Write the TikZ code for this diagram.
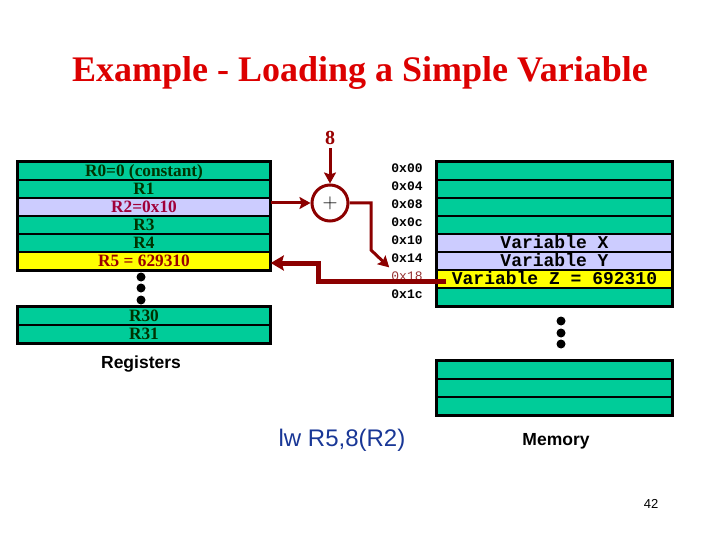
\documentclass[tikz,border=0pt]{standalone}
\usepackage{fontspec}
\setmainfont{Liberation Serif}
\newfontfamily\arialf{Liberation Sans}
\newfontfamily\courf{Liberation Mono}
\usetikzlibrary{arrows.meta,calc}
\definecolor{rgreen}{RGB}{0,204,153}
\definecolor{rlav}{RGB}{204,204,255}
\definecolor{ryel}{RGB}{255,255,0}
\definecolor{dkgreen}{RGB}{0,51,0}
\definecolor{wire}{RGB}{140,0,0}
\definecolor{titlered}{RGB}{220,0,0}
\definecolor{r2red}{RGB}{160,0,58}
\definecolor{r5red}{RGB}{153,0,0}
\definecolor{instblue}{RGB}{25,55,150}
\definecolor{faded}{RGB}{150,50,50}
\tikzset{
  regrow/.style={draw=black, line width=1.5pt, fill=rgreen, minimum width=252pt, minimum height=18pt, inner sep=0pt,
    text height=11pt, text depth=0pt,
    font=\bfseries\fontsize{17.3}{17.3}\selectfont, text=dkgreen},
  memrow/.style={draw=black, line width=1.5pt, fill=rgreen, minimum width=235pt, minimum height=18pt, inner sep=0pt,
    text height=10pt, text depth=0pt,
    font=\courf\bfseries\fontsize{18}{18}\selectfont, text=black},
  addr/.style={font=\courf\bfseries\fontsize{13}{13}\selectfont, inner sep=0pt},
  frame/.style={draw=black, line width=3pt},
  dot/.style={circle, fill=black, inner sep=0pt, minimum size=9pt},
  wirearrow/.style={draw=wire, line width=3pt, -{Stealth[length=11pt,width=12pt,inset=2pt]}},
  thickarrow/.style={draw=wire, line width=5pt, -{Stealth[length=13pt,width=15pt,inset=2pt]}},
}
\begin{document}
\begin{tikzpicture}[x=1pt,y=-1pt]
\useasboundingbox (0,0) rectangle (720,540);
% title
\node[font=\bfseries\fontsize{36}{36}\selectfont, text=titlered] (title) at (360,73) {Example - Loading a Simple Variable};
% registers
\node[regrow] (r0) at (144,171) {R0=0 (constant)};
\node[regrow] (r1) at (144,189) {R1};
\node[regrow, fill=rlav, text=r2red] (r2) at (144,207) {R2=0x10};
\node[regrow] (r3) at (144,225) {R3};
\node[regrow] (r4) at (144,243) {R4};
\node[regrow, fill=ryel, text=r5red] (r5) at (144,261) {R5 = 629310};
\draw[frame] (r0.north west) rectangle (r5.south east);
\node[dot] (rd1) at (141,277) {};
\node[dot] (rd2) at (141,288) {};
\node[dot] (rd3) at (141,300) {};
\node[regrow] (r30) at (144,316) {R30};
\node[regrow] (r31) at (144,334) {R31};
\draw[frame] (r30.north west) rectangle (r31.south east);
\node[font=\arialf\bfseries\fontsize{17.5}{17.5}\selectfont] (reglbl) at (141,364) {Registers};
% memory
\node[memrow] (m0) at (554.5,171) {};
\node[memrow] (m1) at (554.5,189) {};
\node[memrow] (m2) at (554.5,207) {};
\node[memrow] (m3) at (554.5,225) {};
\node[memrow, fill=rlav] (mx) at (554.5,243) {Variable X};
\node[memrow, fill=rlav] (my) at (554.5,261) {Variable Y};
\node[memrow, fill=ryel] (mz) at (554.5,279) {Variable Z = 692310};
\node[memrow] (m7) at (554.5,297) {};
\draw[frame] (m0.north west) rectangle (m7.south east);
\node[dot] (md1) at (561,321) {};
\node[dot] (md2) at (561,333) {};
\node[dot] (md3) at (561,344) {};
\node[memrow] (mb0) at (554.5,370) {};
\node[memrow] (mb1) at (554.5,388) {};
\node[memrow] (mb2) at (554.5,406) {};
\draw[frame] (mb0.north west) rectangle (mb2.south east);
\node[font=\arialf\bfseries\fontsize{17.5}{17.5}\selectfont] (memlbl) at (556,441) {Memory};
% addresses
\node[addr] (a00) at (407,168) {0x00};
\node[addr] (a04) at (407,186) {0x04};
\node[addr] (a08) at (407,204) {0x08};
\node[addr] (a0c) at (407,222) {0x0c};
\node[addr] (a10) at (407,240) {0x10};
\node[addr] (a14) at (407,258) {0x14};
\node[addr, font=\courf\fontsize{13}{13}\selectfont, text=faded] (a18) at (407,276) {0x18};
\node[addr] (a1c) at (407,294) {0x1c};
% adder
\node[circle, draw=wire, line width=3pt, minimum size=36pt, inner sep=0pt, font=\fontsize{20}{20}\selectfont] (add) at (330,203) {$+$};
\node[font=\bfseries\fontsize{20}{20}\selectfont, text=r5red] (eight) at (330,138) {8};
\draw[wirearrow] (eight.south) -- (add.north);
\draw[wirearrow] (add.west -| r2.east) -- (add.west);
\coordinate (bend) at (371,250);
\draw[wirearrow] (add.east) -| (bend) -- ([xshift=-2pt,yshift=4pt]a18.north west);
% return path
\coordinate (corner) at (318,263);
\draw[thickarrow] ([xshift=10pt,yshift=-2pt]mz.west) -| (corner) -- (corner -| r5.east);
% instruction
\node[font=\arialf\fontsize{24}{24}\selectfont, text=instblue] (inst) at (342,440) {lw R5,8(R2)};
\node[font=\arialf\fontsize{13}{13}\selectfont] (pg) at (651,504) {42};
\end{tikzpicture}
\end{document}
